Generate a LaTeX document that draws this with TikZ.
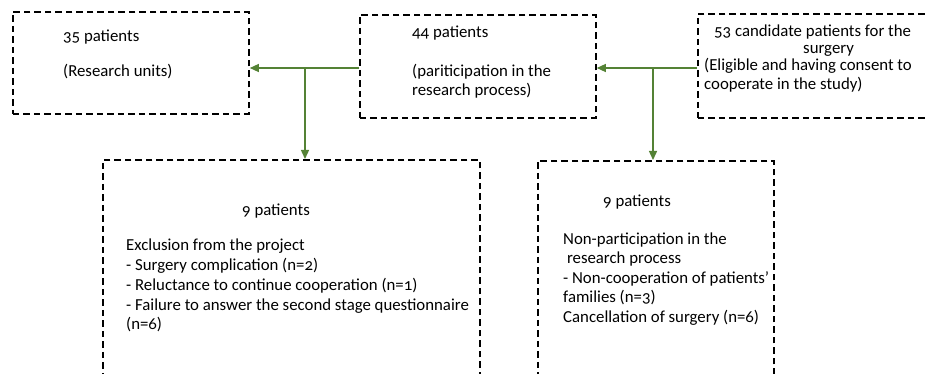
\documentclass[tikz,border=0pt]{standalone}
\usepackage{fontspec}
\setmainfont{Carlito}[Numbers=OldStyle]
\usetikzlibrary{arrows.meta}
\definecolor{arrgreen}{RGB}{84,130,53}
\tikzset{
  dbox/.style={draw=black, line width=1.8pt, dash pattern=on 6.5pt off 4pt, inner sep=0pt, anchor=north west},
  arr/.style={draw=arrgreen, line width=1.4pt, -{Triangle[length=9pt,width=8pt]}},
  txt/.style={anchor=base west, inner sep=0pt, font=\fontsize{16.8}{19.7}\selectfont}
}
\begin{document}
\begin{tikzpicture}[x=1pt,y=-1pt]
\useasboundingbox (0,0) rectangle (926,374);
% boxes
\node[dbox, minimum width=236pt, minimum height=102pt] (box1) at (12,11) {};
\node[dbox, minimum width=236pt, minimum height=103pt] (box2) at (359,14) {};
\node[dbox, minimum width=240pt, minimum height=104pt] (box3) at (697,13) {};
\node[dbox, minimum width=377pt, minimum height=230pt] (box4) at (102,159) {};
\node[dbox, minimum width=236pt, minimum height=230pt] (box5) at (537,160) {};
% texts
\node[txt] (t1a) at (63,42) {35 patients};
\node[txt] (t1b) at (63,77) {(Research units)};
\node[txt] (t2a) at (412,38) {44 patients};
\node[txt] (t2b) at (412,77) {(pariticipation in the};
\node[txt] (t2c) at (412,96) {research process)};
\node[txt] (t3a) at (714,37) {53 candidate patients for the};
\node[txt] (t3b) at (803,54) {surgery};
\node[txt] (t3c) at (704,71) {(Eligible and having consent to};
\node[txt] (t3d) at (704,90) {cooperate in the study)};
\node[txt] (t4a) at (242,215) {9 patients};
\node[txt] (t4b) at (126,251) {Exclusion from the project};
\node[txt] (t4c) at (126,270.5) {- Surgery complication (n=2)};
\node[txt] (t4d) at (126,290) {- Reluctance to continue cooperation (n=1)};
\node[txt] (t4e) at (126,310) {- Failure to answer the second stage questionnaire};
\node[txt] (t4f) at (126,329.5) {(n=6)};
\node[txt] (t5a) at (603,207) {9 patients};
\node[txt] (t5b) at (563,244) {Non-participation in the};
\node[txt] (t5c) at (563,263.5) {\ research process};
\node[txt] (t5d) at (563,283) {- Non-cooperation of patients’};
\node[txt] (t5e) at (563,302.5) {families (n=3)};
\node[txt] (t5f) at (563,322) {Cancellation of surgery (n=6)};
% connectors
\coordinate (j1) at (305,68);
\coordinate (j2) at (653,68);
\draw[arr] (box2.west |- j1) -- (box1.east |- j1);
\draw[arr] (box3.west |- j2) -- (box2.east |- j2);
\draw[arr] (j1) -- (j1 |- box4.north);
\draw[arr] (j2) -- (j2 |- box5.north);
\end{tikzpicture}
\end{document}
